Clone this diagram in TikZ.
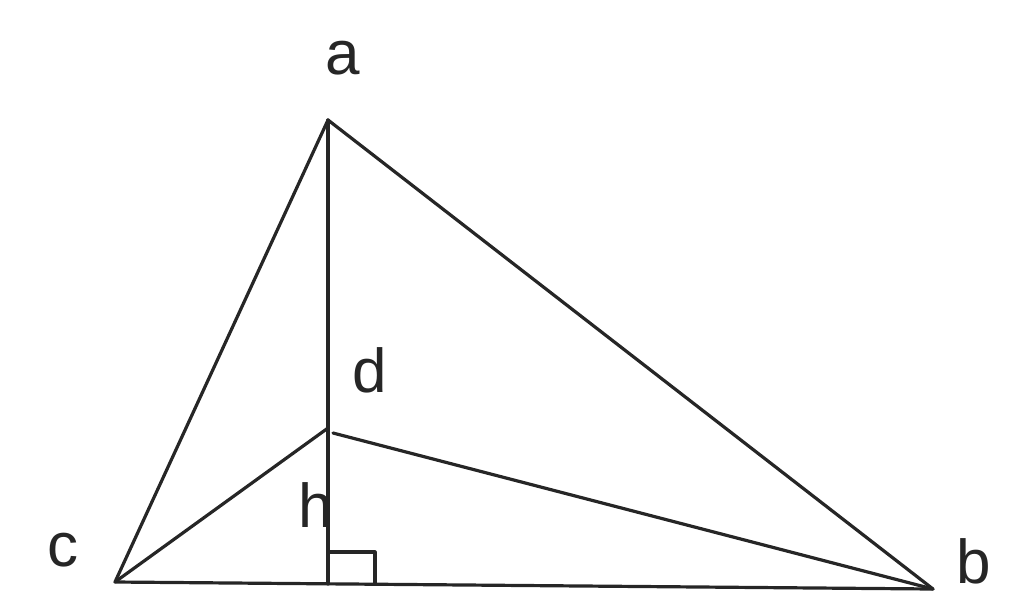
\documentclass[tikz,border=0pt]{standalone}
\usepackage{fontspec}
\setmainfont{Liberation Sans}
\begin{document}
\begin{tikzpicture}[x=1pt,y=-1pt,
  edge/.style={line width=3.2pt,draw=black!85,line join=round,line cap=round},
  lbl/.style={font=\fontsize{62}{62}\selectfont,text=black!85,inner sep=0pt}]
\useasboundingbox (0,0) rectangle (1024,611);
\coordinate (A) at (328,120);
\coordinate (B) at (933,589);
\coordinate (C) at (115,582);
\coordinate (D) at (328,428);
\coordinate (D2) at (333,433);
\coordinate (H) at (328,584);
\coordinate (S1) at (328,552);
\coordinate (S2) at (375,552);
\coordinate (S3) at (375,584);
\draw[edge] (C) -- (A) -- (B) -- cycle;
\draw[edge] (A) -- (H);
\draw[edge] (C) -- (D);
\draw[edge] (D2) -- (B);
\draw[edge] (S1) -- (S2) -- (S3);
\node[lbl] (la) at (343,58) {a};
\node[lbl] (ld) at (370,370) {d};
\node[lbl] (lh) at (316,505) {h};
\node[lbl] (lc) at (63,550) {c};
\node[lbl] (lb) at (974,561) {b};
\end{tikzpicture}
\end{document}
